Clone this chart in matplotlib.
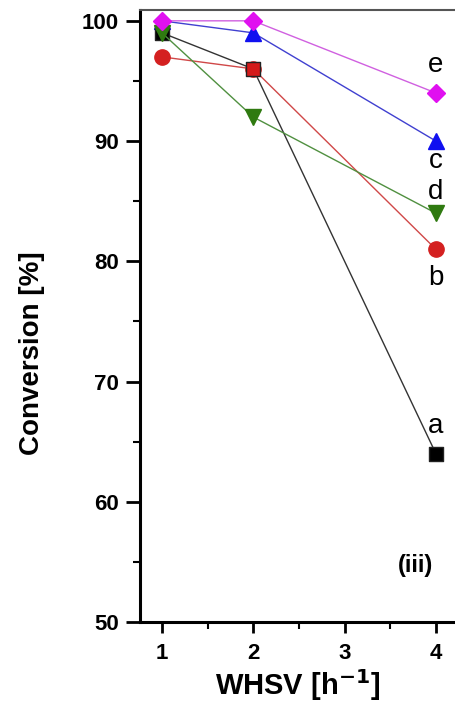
import matplotlib.pyplot as plt
from matplotlib.ticker import MultipleLocator

plt.rcParams['font.family'] = ['Liberation Sans', 'DejaVu Sans']

whsv = [1, 2, 4]
conv_a = [99, 96, 64]
conv_b = [97, 96, 81]
conv_c = [100, 99, 90]
conv_d = [99, 92, 84]
conv_e = [100, 100, 94]
# at 2 h-1 the "a" square shows red on top of "b"
face_a = ['black', '#d41a1a', 'black']

# label positions next to the last point
labels = ['a', 'b', 'c', 'd', 'e']
label_y = [66.3, 78.6, 88.3, 85.8, 96.3]

fig = plt.figure(figsize=(4.56, 7.04), dpi=100)
ax = fig.add_axes([140/456, 82/704, 316/456, 612/704])

ax.plot(whsv, conv_a, color='#333333', lw=1, zorder=2)
ax.plot(whsv, conv_b, color='#d04848', lw=1, marker='o', ms=11, mfc='#d42020', mec='#d42020', zorder=3)
ax.plot(whsv, conv_c, color='#4040d0', lw=1, marker='^', ms=12, mfc='#1010f0', mec='#1010f0', zorder=3)
ax.plot(whsv, conv_d, color='#509040', lw=1, marker='v', ms=12, mfc='#2f7a10', mec='#2f7a10', zorder=4)
ax.plot(whsv, conv_e, color='#d060e0', lw=1, marker='D', ms=9, mfc='#e010f0', mec='#e010f0', zorder=5)
ax.scatter(whsv, conv_a, marker='s', s=100, c=face_a, edgecolors='#222222', linewidths=1, zorder=3.5)

for lab, y in zip(labels, label_y):
    ax.text(4.0, y, lab, fontsize=20, ha='center', va='center')

ax.text(3.78, 54.7, '(iii)', fontsize=17, fontweight='bold', ha='center', va='center')

ax.set_xlim(0.76, 4.22)
ax.set_ylim(50, 100.9)
ax.xaxis.set_major_locator(MultipleLocator(1))
ax.xaxis.set_minor_locator(MultipleLocator(0.5))
ax.yaxis.set_major_locator(MultipleLocator(10))
ax.yaxis.set_minor_locator(MultipleLocator(5))
ax.tick_params(axis='y', which='major', direction='out', length=10, width=2, labelsize=16, pad=5)
ax.tick_params(axis='x', which='major', direction='out', length=8, width=2, labelsize=16, pad=7)
ax.tick_params(which='minor', direction='out', length=5, width=1.5)
for t in ax.get_xticklabels() + ax.get_yticklabels():
    t.set_fontweight('bold')
for s in ['left', 'bottom']:
    ax.spines[s].set_linewidth(2.2)
ax.spines['top'].set_linewidth(1.5)
ax.spines['top'].set_color('#555555')
ax.spines['right'].set_visible(False)

ax.set_xlabel('WHSV [h$^{\\mathbf{-1}}$]', fontsize=21, fontweight='bold', labelpad=2)
ax.set_ylabel('Conversion [%]', fontsize=20, fontweight='bold')
ax.yaxis.set_label_coords(-0.30, 0.44)

fig.savefig('out.png', dpi=100)
